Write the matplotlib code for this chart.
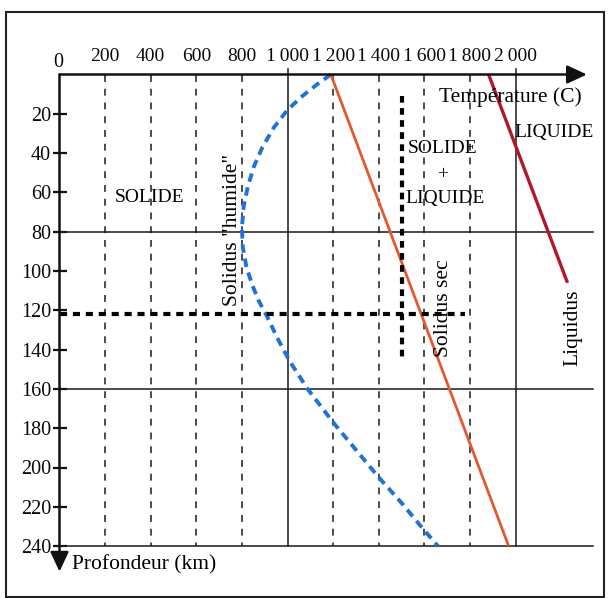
import matplotlib
matplotlib.use("Agg")
import matplotlib.pyplot as plt
from matplotlib.patches import Rectangle

plt.rcParams['font.family'] = ['Liberation Serif', 'DejaVu Serif']

# ---------------- data ----------------
temp_ticks = [200, 400, 600, 800, 1000, 1200, 1400, 1600, 1800, 2000]
temp_labels = ["200", "400", "600", "800", "1\u2009000", "1\u2009200", "1\u2009400",
               "1\u2009600", "1\u2009800", "2\u2009000"]
depth_ticks = [20, 40, 60, 80, 100, 120, 140, 160, 180, 200, 220, 240]
depth_labels = [str(d) for d in depth_ticks]

dashed_temps = [200, 400, 600, 800, 1200, 1400, 1600, 1800]
solid_temps = [1000, 2000]
solid_depths = [80, 160, 240]

# Solidus "humide" (blue dashed curve)
humide_depth = [0, 5, 11, 18, 27, 37, 47, 57, 67, 78, 88, 98, 107, 115, 123,
                134, 146, 160, 177, 191, 205, 218, 232, 240]
humide_temp = [1190, 1130, 1065, 1000, 940, 890, 852, 826, 808, 800, 804, 820,
               845, 873, 910, 955, 1010, 1088, 1200, 1300, 1400, 1500, 1600, 1660]

# Solidus sec (orange straight line)
sec_temp = [1190, 1970]
sec_depth = [0, 240]

# Liquidus (dark red straight line)
liq_temp = [1882, 2228]
liq_depth = [0, 106]

# bold dashed marker lines
bold_v_temp, bold_v_depth = [1502, 1502], [11, 145]
bold_h_temp, bold_h_depth = [0, 1777], [122, 122]

# ---------------- layout ----------------
W, H = 611, 598
PX_T = 0.228   # px per degC
PX_D = 1.965   # px per km
X0, Y0 = 59.5, 74.5

fig = plt.figure(figsize=(W / 100, H / 100), dpi=100)
ax = fig.add_axes([0, 0, 1, 1])
ax.set_xlim(-X0 / PX_T, (W - X0) / PX_T)
ax.set_ylim((H - Y0) / PX_D, -Y0 / PX_D)

for s in ax.spines.values():
    s.set_visible(False)
ax.spines['top'].set_position(('data', 0))
ax.spines['left'].set_position(('data', 0))

# x ticks on top (labels only)
ax.xaxis.set_ticks_position('top')
ax.set_xticks(temp_ticks)
ax.set_xticklabels(temp_labels)
ax.tick_params(axis='x', length=0, pad=7, labelsize=14, labelcolor='#0a0a0a')

# y ticks on left crossing the axis
ax.yaxis.set_ticks_position('left')
ax.set_yticks(depth_ticks)
ax.set_yticklabels(depth_labels)
ax.tick_params(axis='y', direction='inout', length=10, width=1.6, pad=1,
               labelsize=14.5, labelcolor='#0a0a0a', color='#111')

ax.text(-6, -6, "0", fontsize=14.5, ha='center', va='center', color='#0a0a0a')

grid_c = '#1a1a1a'
for t in dashed_temps:
    ax.plot([t, t], [0, 240], color=grid_c, lw=1.1, ls=(0, (4.5, 4.5)))
for t in solid_temps:
    ax.plot([t, t], [-3, 240], color=grid_c, lw=1.1)
for d in solid_depths:
    ax.plot([0, 2340], [d, d], color=grid_c, lw=1.1)

# axes with arrows
ax.annotate('', xy=(2313, 0), xytext=(0, 0),
            arrowprops=dict(arrowstyle='-|>,head_length=0.6,head_width=0.28',
                            lw=1.8, color='#111', mutation_scale=20, shrinkA=0, shrinkB=0))
ax.annotate('', xy=(0, 253), xytext=(0, 0),
            arrowprops=dict(arrowstyle='-|>,head_length=0.6,head_width=0.28',
                            lw=1.8, color='#111', mutation_scale=20, shrinkA=0, shrinkB=0))

# curves
ax.plot(humide_temp, humide_depth, color='#1f72dc', lw=2.8, ls=(0, (2.2, 1.5)))
ax.plot(sec_temp, sec_depth, color='#e4582f', lw=2.0, solid_capstyle='butt')
ax.plot(liq_temp, liq_depth, color='#b3172c', lw=2.4, solid_capstyle='butt')

ax.plot(bold_v_temp, bold_v_depth, color='black', lw=3.0, ls=(0, (1.6, 1.3)))
ax.plot(bold_h_temp, bold_h_depth, color='black', lw=3.0, ls=(0, (1.7, 1.4)))

# labels
fs = 14
fr = 15.5
ax.text(395, 62.6, "SOLIDE", fontsize=fs, ha='center', va='center')
ax.text(759, 79, 'Solidus "humide"', fontsize=fr, ha='center', va='center', rotation=90)
ax.text(1680, 37.6, "SOLIDE", fontsize=fs, ha='center', va='center')
ax.text(1680, 51, "+", fontsize=fs, ha='center', va='center')
ax.text(1692, 63, "LIQUIDE", fontsize=fs, ha='center', va='center')
ax.text(2171, 29.5, "LIQUIDE", fontsize=fs, ha='center', va='center')
ax.text(1978, 11.7, "Température (C)", fontsize=fs + 1.5, ha='center', va='center')
ax.text(1684, 119, "Solidus sec", fontsize=fr, ha='center', va='center', rotation=90)
ax.text(2250, 129, "Liquidus", fontsize=fr, ha='center', va='center', rotation=90)
ax.text(55, 249.6, "Profondeur (km)", fontsize=fs + 1.5, ha='left', va='center')

# outer frame
fig.patches.append(Rectangle((6 / W, 1 - 597 / H), 598 / W, 585 / H,
                             transform=fig.transFigure, fill=False,
                             edgecolor='#222', lw=1.5))

fig.savefig("out.png", dpi=100)
